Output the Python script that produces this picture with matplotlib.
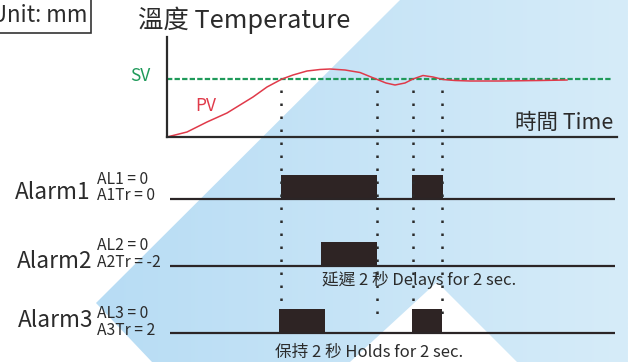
import numpy as np
import matplotlib
matplotlib.use("Agg")
import matplotlib.pyplot as plt
from matplotlib.patches import Polygon, Rectangle

plt.rcParams['font.family'] = ['Noto Sans CJK TC', 'DejaVu Sans']

# PV curve (time in s, temperature in chart units, SV = 58)
pv_t = [0, 1.0, 2.0, 3.0, 3.65, 4.3, 5.0, 5.75, 6.3, 7.0, 7.65, 8.15, 8.9, 9.65,
        10.45, 10.95, 11.4, 11.9, 12.3, 12.8, 13.3, 13.8, 14.4, 15.15, 16.65, 18.65, 20.0]
pv_temp = [0, 5, 15, 24, 32, 40, 50, 58, 62, 66, 67.5, 68, 67, 64.5,
           58, 54, 52, 54, 58, 61.5, 60, 57.5, 56.5, 56, 56, 56.5, 57]
sv_temp = 58
sv_end = 22.25

# alarm output on-periods (start, end) in s
alarm_names = ["Alarm1", "Alarm2", "Alarm3"]
alarm_al = ["AL1 = 0", "AL2 = 0", "AL3 = 0"]
alarm_tr = ["A1Tr = 0", "A2Tr = -2", "A3Tr = 2"]
alarm_on = [
    [(5.7, 10.5), (12.25, 13.8)],
    [(7.7, 10.5)],
    [(5.6, 7.9), (12.25, 13.75)],
]
# event times marked by dotted lines
event_t = [5.7, 10.5, 12.3, 13.75]

W, H = 628, 362
fig = plt.figure(figsize=(W / 100, H / 100), dpi=100)

# background (pixel coordinates)
bg = fig.add_axes([0, 0, 1, 1])
bg.set_xlim(0, W)
bg.set_ylim(H, 0)
bg.axis('off')
blue = Polygon([(400, 0), (W, 0), (W, H), (517, H), (437, 282), (350, H),
                (152, H), (96, 303)], closed=True, facecolor='none', edgecolor='none')
bg.add_patch(blue)
grad = np.linspace(0, 1, 256)[None, :]
cmap = matplotlib.colors.LinearSegmentedColormap.from_list('b', ['#b7dcf4', '#d6ecf9'])
im = bg.imshow(grad, extent=(90, W, H, 0), cmap=cmap, aspect='auto')
im.set_clip_path(blue)

# unit box (cut by the left/top edge as in the original)
bg.add_patch(Rectangle((-5, -5), 96, 38, facecolor='white', edgecolor='#333333', lw=1.2))
bg.text(-9, 22, "Unit: mm", fontsize=16, color='#2b2b2b', va='baseline')

# temperature chart
tax = fig.add_axes([167 / W, 1 - 137 / H, 450 / W, 100 / H])
tax.set_xlim(0, 22.5)
tax.set_ylim(0, 100)
tax.patch.set_alpha(0)
for s in ['top', 'right']:
    tax.spines[s].set_visible(False)
for s in ['left', 'bottom']:
    tax.spines[s].set_linewidth(1.6)
    tax.spines[s].set_color('#2b2b2b')
tax.set_xticks([])
tax.set_yticks([])
tax.plot([0, sv_end], [sv_temp, sv_temp], color='#1f9a5a', lw=1.6, ls=(0, (2.4, 1.0)))
tax.plot(pv_t, pv_temp, color='#e03a4a', lw=1.1, clip_on=False, solid_joinstyle='round')

bg.text(138, 28, "溫度 Temperature", fontsize=18.3, color='#2b2b2b', va='baseline')
bg.text(613, 129, "時間 Time", fontsize=15.5, color='#2b2b2b', va='baseline', ha='right')
bg.text(130, 81, "SV", fontsize=12.5, color='#1f9a5a', va='baseline')
bg.text(195, 111, "PV", fontsize=12.5, color='#e03a4a', va='baseline')

# alarm rows (x in s, y in pixel rows)
aax = fig.add_axes([167 / W, 0, 450 / W, 1])
aax.set_xlim(0, 22.5)
aax.set_ylim(H, 0)
aax.axis('off')

row_base = [199, 266, 333]
row_h = 24
label_x = [15, 17, 18]
label_base = [199, 268, 327]
dot_bottom = [308, 318, 305, 318]
for i, name in enumerate(alarm_names):
    y = row_base[i]
    aax.plot([0.15, 22.4], [y, y], color='#2b2526', lw=1.6, solid_capstyle='butt')
    aax.broken_barh([(s, e - s) for s, e in alarm_on[i]], (y - row_h, row_h),
                    facecolor='#2e2424', edgecolor='none')
    bg.text(label_x[i], label_base[i], name, fontsize=16.3, color='#2b2b2b', va='baseline')

sub_base = [(184, 200), (250, 267), (318, 335)]
for i in range(3):
    bg.text(97, sub_base[i][0], alarm_al[i], fontsize=11.3, color='#2b2b2b', va='baseline')
    bg.text(97, sub_base[i][1], alarm_tr[i], fontsize=11.3, color='#2b2b2b', va='baseline')

for t, yb in zip(event_t, dot_bottom):
    aax.plot([t, t], [90, yb], color='#2b2b2b', lw=1.8, ls=(0, (1, 4.2)))

bg.text(322, 285, "延遲 2 秒 Delays for 2 sec.", fontsize=12, color='#2b2b2b', va='baseline')
bg.text(275, 357, "保持 2 秒 Holds for 2 sec.", fontsize=12, color='#2b2b2b', va='baseline')

fig.savefig("out.png", dpi=100)
